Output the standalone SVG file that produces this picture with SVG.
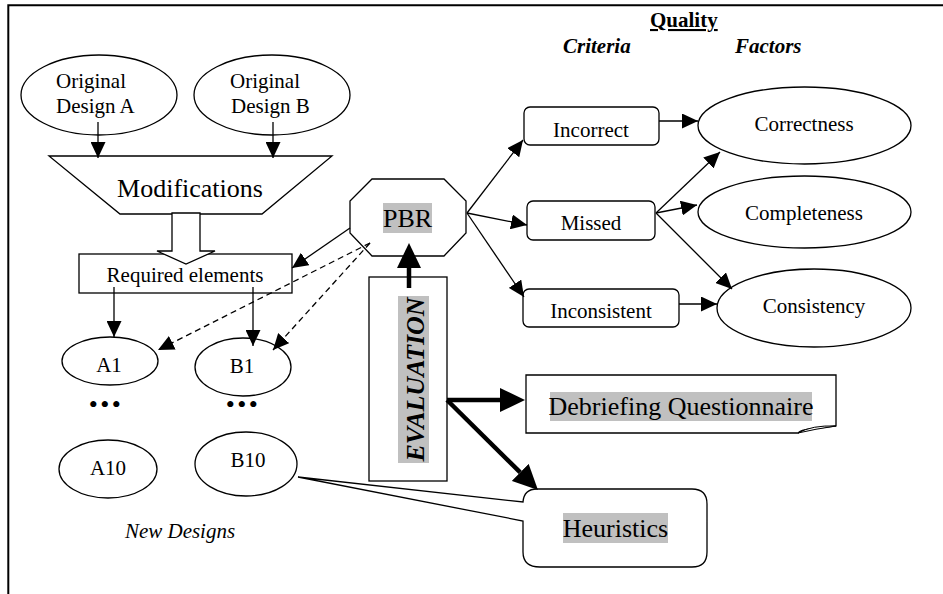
<svg xmlns="http://www.w3.org/2000/svg" width="943" height="594" viewBox="0 0 943 594" font-family="'Liberation Serif', Tinos, 'Times New Roman', 'Noto Serif', 'DejaVu Serif', serif">
<defs>
<style>
.n{fill:#fff;stroke:#000;stroke-width:1.3}
.t{font-family:'Liberation Serif', Tinos, 'Times New Roman', 'Noto Serif', 'DejaVu Serif', serif;font-size:21px;font-weight:normal;font-style:normal;fill:#000}
.big{font-size:26px}
.b{font-weight:bold}
.bi{font-weight:bold;font-style:italic}
.hl{fill:#c0c0c0}
.c{fill:none;stroke:#000;stroke-width:1.3;marker-end:url(#ah)}
.d{stroke-dasharray:6 4}
.k{fill:none;stroke:#000;stroke-width:4.5;marker-end:url(#ahb)}
</style>
<marker id="ah" viewBox="0 0 10 10" refX="10" refY="5" markerWidth="16" markerHeight="15" markerUnits="userSpaceOnUse" orient="auto" preserveAspectRatio="none"><path d="M0,0 L10,5 L0,10 Z" fill="#000"/></marker>
<marker id="ahb" viewBox="0 0 10 10" refX="0" refY="5" markerWidth="25" markerHeight="24" markerUnits="userSpaceOnUse" orient="auto" preserveAspectRatio="none"><path d="M0,0 L10,5 L0,10 Z" fill="#000"/></marker>
</defs>
<rect width="943" height="594" fill="#fff"/>
<g id="frame" fill="none" stroke="#000" stroke-width="2">
<path d="M8.3,594 V5.3 H943"/>
</g>
<g id="headers">
<text class="t b" x="650" y="27" text-decoration="underline">Quality</text>
<text class="t bi" x="563" y="53">Criteria</text>
<text class="t bi" x="735" y="53">Factors</text>
</g>
<g id="origA">
<ellipse class="n" cx="99" cy="95" rx="78" ry="40"/>
<text class="t" x="56" y="88">Original</text>
<text class="t" x="56" y="113">Design A</text>
</g>
<g id="origB">
<ellipse class="n" cx="272" cy="95" rx="78" ry="40"/>
<text class="t" x="230" y="88">Original</text>
<text class="t" x="231" y="113">Design B</text>
</g>
<g id="modifications">
<polygon class="n" points="49,156 332,156 262,214 120,214"/>
<text class="t big" x="190" y="197" text-anchor="middle">Modifications</text>
</g>
<g id="required">
<rect class="n" x="79" y="254" width="213" height="39"/>
<text class="t" x="185" y="282" text-anchor="middle">Required elements</text>
</g>
<g id="a1">
<ellipse class="n" cx="110" cy="361" rx="48" ry="24"/>
<text class="t" x="109" y="372" text-anchor="middle">A1</text>
</g>
<g id="b1">
<ellipse class="n" cx="243" cy="367" rx="48" ry="29"/>
<text class="t" x="242" y="373" text-anchor="middle">B1</text>
</g>
<g id="dotsA"><text class="t" x="106" y="413" text-anchor="middle" style="font-size:26px" letter-spacing="2.4">•••</text></g>
<g id="dotsB"><text class="t" x="243" y="413" text-anchor="middle" style="font-size:26px" letter-spacing="2.4">•••</text></g>
<g id="a10">
<ellipse class="n" cx="108" cy="469" rx="49" ry="29"/>
<text class="t" x="108" y="475" text-anchor="middle">A10</text>
</g>
<g id="b10">
<ellipse class="n" cx="246" cy="464" rx="51" ry="32"/>
<text class="t" x="248" y="467" text-anchor="middle">B10</text>
</g>
<g id="newDesigns"><text class="t" x="180" y="538" text-anchor="middle" style="font-style:italic">New Designs</text></g>
<g id="pbr">
<polygon class="n" points="372,179 444,179 466,201 466,233 444,256 372,256 350,233 350,201"/>
<rect class="hl" x="383" y="203" width="49" height="30"/>
<text class="t big" x="407.5" y="227" text-anchor="middle">PBR</text>
</g>
<g id="incorrect">
<rect class="n" x="524" y="107" width="135" height="38" rx="6"/>
<text class="t" x="591" y="137" text-anchor="middle">Incorrect</text>
</g>
<g id="missed">
<rect class="n" x="527" y="201" width="128" height="39" rx="6"/>
<text class="t" x="591" y="230" text-anchor="middle">Missed</text>
</g>
<g id="inconsistent">
<rect class="n" x="523" y="289" width="156" height="38" rx="6"/>
<text class="t" x="601" y="318" text-anchor="middle">Inconsistent</text>
</g>
<g id="correctness">
<ellipse class="n" cx="804.5" cy="125.5" rx="106.5" ry="38.5"/>
<text class="t" x="804" y="131" text-anchor="middle">Correctness</text>
</g>
<g id="completeness">
<ellipse class="n" cx="804.5" cy="212" rx="106.5" ry="36"/>
<text class="t" x="804" y="220" text-anchor="middle">Completeness</text>
</g>
<g id="consistency">
<ellipse class="n" cx="814" cy="308" rx="97" ry="39"/>
<text class="t" x="814" y="313" text-anchor="middle">Consistency</text>
</g>
<g id="evaluation">
<rect class="n" x="369" y="277" width="78" height="204"/>
<rect class="hl" x="398" y="296" width="31" height="167"/>
<text class="t big bi" transform="translate(423.5,379.5) rotate(-90)" text-anchor="middle">EVALUATION</text>
</g>
<g id="debriefing">
<path class="n" d="M526,375 H836 V426 L810,429 Q801,430 798,433 H526 Z"/>
<path fill="#fff" stroke="#000" stroke-width="1" d="M798,433 Q812,425 836,426 Q815,429 798,433 Z"/>
<rect class="hl" x="550" y="392" width="262" height="29"/>
<text class="t big" x="681" y="415" text-anchor="middle">Debriefing Questionnaire</text>
</g>
<g id="heuristics">
<path class="n" d="M537,489 H692 Q707,489 707,504 V552 Q707,567 692,567 H540 Q523,567 523,552 V521 L298,477 L523,502 Q524,489 537,489 Z"/>
<rect class="hl" x="563" y="513" width="105" height="30"/>
<text class="t big" x="615.5" y="537" text-anchor="middle">Heuristics</text>
</g>
<g id="connectors">
<polygon class="n" points="172,213 172,251 157,251 186,264 215,251 200,251 200,213"/>
<line class="c" x1="98" y1="122" x2="98" y2="158"/>
<line class="c" x1="273" y1="122" x2="273" y2="158"/>
<line class="c" x1="114" y1="287" x2="114" y2="337"/>
<line class="c" x1="253" y1="287" x2="253" y2="346"/>
<line class="c" x1="350" y1="228" x2="292" y2="268"/>
<line class="c d" x1="370" y1="243" x2="158" y2="350"/>
<line class="c d" x1="370" y1="243" x2="273" y2="350"/>
<line class="c" x1="467" y1="213" x2="523" y2="140"/>
<line class="c" x1="467" y1="213" x2="527" y2="225"/>
<line class="c" x1="467" y1="213" x2="524" y2="297"/>
<line class="c" x1="659" y1="121" x2="698" y2="121"/>
<line class="c" x1="656" y1="213" x2="720" y2="152"/>
<line class="c" x1="656" y1="213" x2="697" y2="205"/>
<line class="c" x1="656" y1="213" x2="732" y2="289"/>
<line class="c" x1="679" y1="304" x2="717" y2="304"/>
<line class="k" x1="409" y1="288" x2="409" y2="268"/>
<line class="k" x1="447" y1="400" x2="500" y2="400"/>
<line class="k" x1="447" y1="400" x2="520.2" y2="472.4"/>
</g>
</svg>
